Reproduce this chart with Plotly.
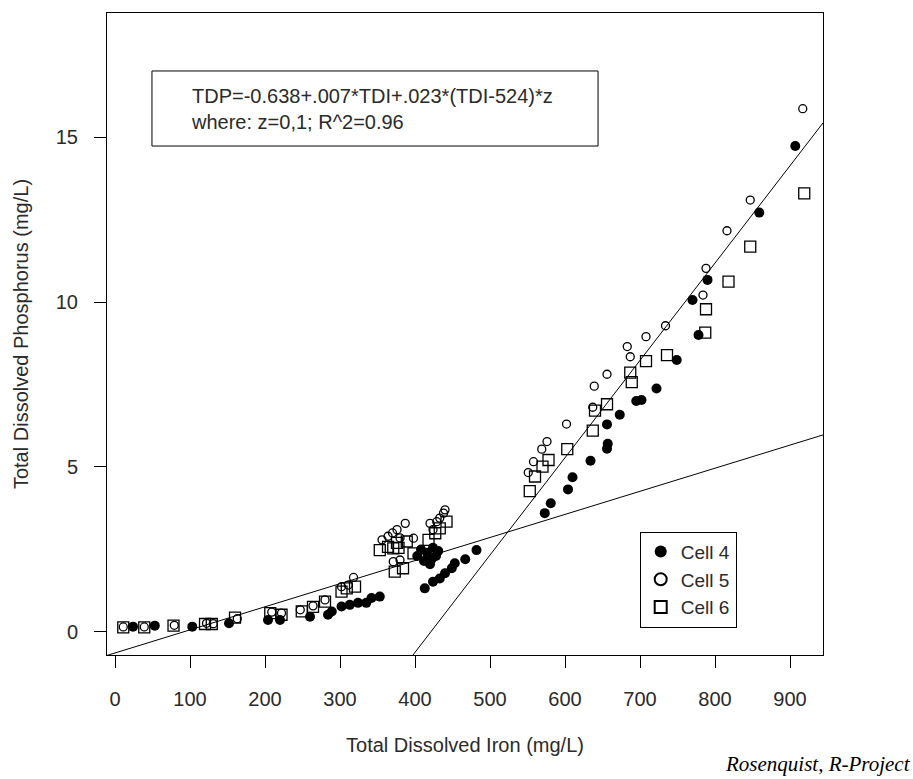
import plotly.graph_objects as go

# ---------------- data ----------------
cell4_x = [24, 53, 103, 152, 204, 220, 260, 284, 289, 302, 313, 324, 335, 342, 353,
           403, 408, 412, 416, 420, 424, 428, 431, 422, 482,
           413, 424, 433, 440, 449, 453, 467,
           573, 581, 604, 610, 634, 656, 657, 656, 673, 695, 702, 722, 749, 778, 770, 790, 859, 907]
cell4_y = [0.16, 0.19, 0.16, 0.26, 0.36, 0.36, 0.46, 0.52, 0.62, 0.77, 0.82, 0.88, 0.88, 1.03, 1.07,
           2.30, 2.50, 2.15, 2.40, 2.05, 2.55, 2.30, 2.45, 2.20, 2.48,
           1.32, 1.52, 1.62, 1.78, 1.93, 2.08, 2.20,
           3.60, 3.90, 4.32, 4.69, 5.19, 5.55, 5.70, 6.29, 6.58, 7.00, 7.03, 7.38, 8.24, 9.00, 10.06, 10.67, 12.71, 14.73]

cell5_x = [11, 39, 79, 122, 131, 163, 209, 222, 247, 264, 280, 302, 311, 318,
           356, 364, 370, 376, 387, 380, 398, 371, 380,
           420, 424, 429, 433, 438, 440,
           551, 558, 569, 576, 602, 637, 639, 656, 683, 687, 708, 734, 784, 788, 816, 847, 917]
cell5_y = [0.15, 0.15, 0.20, 0.26, 0.25, 0.40, 0.60, 0.57, 0.67, 0.79, 0.97, 1.37, 1.42, 1.65,
           2.79, 2.90, 3.00, 3.10, 3.29, 2.85, 2.84, 2.13, 2.18,
           3.29, 3.10, 3.34, 3.45, 3.60, 3.70,
           4.83, 5.16, 5.54, 5.77, 6.30, 6.81, 7.45, 7.81, 8.65, 8.34, 8.95, 9.28, 10.21, 11.02, 12.16, 13.09, 15.86]

cell6_x = [11, 39, 78, 120, 129, 160, 207, 222, 249, 264, 280, 302, 309, 320,
           353, 364, 371, 378, 389, 398, 373, 384, 376,
           418, 427, 433, 442,
           553, 560, 570, 578, 603, 637, 640, 656, 687, 689, 708, 736, 787, 788, 818, 847, 919]
cell6_y = [0.14, 0.14, 0.19, 0.24, 0.24, 0.43, 0.57, 0.52, 0.62, 0.76, 0.92, 1.22, 1.32, 1.37,
           2.48, 2.58, 2.53, 2.55, 2.74, 2.38, 1.83, 1.93, 2.70,
           2.79, 2.99, 3.14, 3.34,
           4.27, 4.71, 5.01, 5.21, 5.54, 6.10, 6.71, 6.90, 7.86, 7.57, 8.21, 8.39, 9.07, 9.78, 10.62, 11.68, 13.29]

# fitted lines (z = 0 and z = 1): intercept, slope
line_intercepts = [-0.638, -12.42]
line_slopes = [0.007, 0.0295]

x_range = [-10.7, 944]
y_range = [-0.70, 18.76]
x_ticks = [0, 100, 200, 300, 400, 500, 600, 700, 800, 900]
y_ticks = [0, 5, 10, 15]

eq_text = "TDP=-0.638+.007*TDI+.023*(TDI-524)*z<br>where: z=0,1; R^2=0.96"
x_title = "Total Dissolved Iron (mg/L)"
y_title = "Total Dissolved Phosphorus (mg/L)"
credit = "Rosenquist, R-Project"

FONT = "Liberation Sans, Arial, sans-serif"
TXT = "#2a2a2a"

fig = go.Figure()

for a, b in zip(line_intercepts, line_slopes):
    fig.add_trace(go.Scatter(
        x=x_range, y=[a + b * x_range[0], a + b * x_range[1]],
        mode="lines", line=dict(color="black", width=1), showlegend=False, hoverinfo="skip"))

fig.add_trace(go.Scatter(x=cell4_x, y=cell4_y, mode="markers", name="Cell 4",
                         marker=dict(symbol="circle", size=10, color="black")))
fig.add_trace(go.Scatter(x=cell5_x, y=cell5_y, mode="markers", name="Cell 5",
                         marker=dict(symbol="circle-open", size=8, color="black",
                                     line=dict(width=1.3, color="black"))))
fig.add_trace(go.Scatter(x=cell6_x, y=cell6_y, mode="markers", name="Cell 6",
                         marker=dict(symbol="square-open", size=11, color="black",
                                     line=dict(width=1.3, color="black"))))

axis_common = dict(showline=True, mirror=True, linecolor="black", linewidth=1,
                   showgrid=False, zeroline=False, ticks="outside", ticklen=12,
                   tickcolor="black", tickfont=dict(family=FONT, size=20, color=TXT))

fig.update_xaxes(range=x_range, tickvals=x_ticks, ticklabelstandoff=14,
                 title=dict(text=x_title, font=dict(family=FONT, size=20, color=TXT), standoff=28),
                 **axis_common)
fig.update_yaxes(range=y_range, tickvals=y_ticks, ticklabelstandoff=12,
                 title=dict(text=y_title, font=dict(family=FONT, size=20, color=TXT), standoff=21),
                 **axis_common)

# equation box
fig.add_shape(type="rect", xref="paper", yref="paper",
              x0=0.0628, x1=0.6858, y0=0.7928, y1=0.9097,
              line=dict(color="black", width=1), fillcolor="white", layer="above")
fig.add_annotation(xref="paper", yref="paper", x=0.1145, y=0.8505, xanchor="left", yanchor="middle",
                   text=eq_text, showarrow=False, align="left",
                   font=dict(family=FONT, size=20, color=TXT))

fig.add_annotation(xref="paper", yref="paper", x=1.125, y=-0.17, xanchor="right", yanchor="middle",
                   text="<i>" + credit + "</i>", showarrow=False,
                   font=dict(family="Liberation Serif, Times New Roman, serif", size=21, color="black"))

fig.update_layout(
    width=913, height=779,
    margin=dict(l=107, r=90, t=13, b=124),
    paper_bgcolor="white", plot_bgcolor="white",
    showlegend=True,
    legend=dict(x=0.744, y=0.192, xanchor="left", yanchor="top",
                bordercolor="black", borderwidth=1, bgcolor="white",
                font=dict(family=FONT, size=19, color=TXT),
                itemsizing="constant", tracegroupgap=0),
)

fig.write_html("out.html")
